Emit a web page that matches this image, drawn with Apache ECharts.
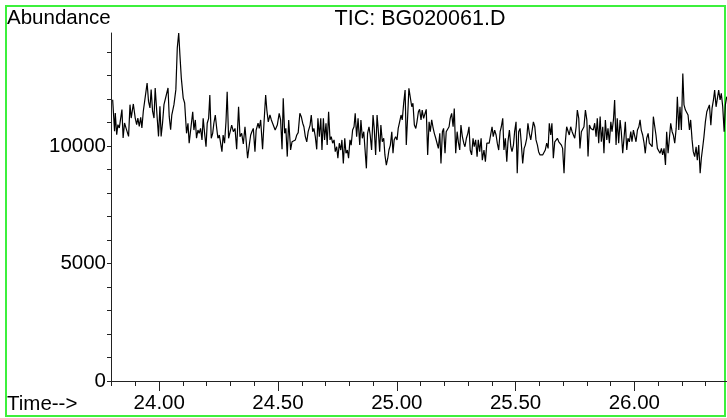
<!DOCTYPE html>
<html>
<head>
<meta charset="utf-8">
<script src="https://cdn.jsdelivr.net/npm/echarts@6/dist/echarts.min.js"></script>
<style>
html,body{margin:0;padding:0;background:#fff;}
#chart{width:727px;height:418px;}
</style>
</head>
<body>
<div id="chart"></div>
<script>
// Retention time (min)
const times = [
23.804,23.812,23.815,23.821,23.826,23.832,23.837,23.843,23.848,23.854,
23.860,23.865,23.871,23.877,23.882,23.891,23.899,23.905,23.910,23.916,
23.922,23.927,23.933,23.941,23.949,23.955,23.961,23.966,23.972,23.978,
23.983,23.992,23.997,24.003,24.008,24.014,24.020,24.028,24.037,24.042,
24.048,24.053,24.062,24.070,24.076,24.082,24.087,24.093,24.101,24.107,
24.115,24.121,24.126,24.133,24.141,24.146,24.152,24.157,24.163,24.168,
24.174,24.180,24.185,24.191,24.197,24.202,24.208,24.213,24.219,24.225,
24.230,24.236,24.242,24.247,24.253,24.259,24.264,24.269,24.275,24.281,
24.286,24.292,24.298,24.305,24.312,24.319,24.326,24.334,24.340,24.347,
24.354,24.361,24.365,24.372,24.379,24.385,24.390,24.396,24.403,24.408,
24.416,24.421,24.427,24.435,24.441,24.448,24.453,24.459,24.466,24.472,
24.480,24.488,24.497,24.505,24.511,24.517,24.522,24.528,24.533,24.539,
24.545,24.553,24.559,24.564,24.573,24.579,24.585,24.592,24.598,24.604,
24.609,24.615,24.621,24.627,24.635,24.640,24.646,24.651,24.657,24.663,
24.668,24.674,24.680,24.685,24.691,24.696,24.702,24.707,24.713,24.719,
24.724,24.730,24.736,24.741,24.747,24.752,24.758,24.764,24.769,24.775,
24.781,24.786,24.792,24.797,24.803,24.808,24.814,24.820,24.825,24.831,
24.837,24.844,24.849,24.855,24.861,24.866,24.872,24.877,24.883,24.888,
24.894,24.900,24.905,24.911,24.917,24.922,24.928,24.933,24.939,24.945,
24.950,24.956,24.962,24.967,24.973,24.979,24.984,24.989,24.995,25.001,
25.006,25.012,25.018,25.023,25.029,25.035,25.040,25.046,25.051,25.057,
25.063,25.068,25.074,25.080,25.085,25.091,25.096,25.102,25.107,25.113,
25.119,25.124,25.130,25.136,25.141,25.147,25.152,25.158,25.164,25.169,
25.175,25.181,25.186,25.192,25.197,25.203,25.208,25.214,25.220,25.225,
25.231,25.237,25.242,25.248,25.254,25.259,25.265,25.270,25.276,25.282,
25.287,25.293,25.299,25.304,25.309,25.315,25.321,25.326,25.332,25.338,
25.343,25.349,25.355,25.360,25.367,25.373,25.379,25.384,25.389,25.395,
25.401,25.406,25.412,25.418,25.423,25.429,25.435,25.440,25.446,25.451,
25.457,25.463,25.468,25.474,25.480,25.485,25.491,25.496,25.502,25.507,
25.513,25.519,25.524,25.530,25.536,25.541,25.547,25.552,25.558,25.564,
25.569,25.575,25.581,25.586,25.592,25.597,25.603,25.608,25.614,25.620,
25.625,25.631,25.637,25.642,25.648,25.653,25.659,25.665,25.670,25.676,
25.682,25.687,25.693,25.698,25.704,25.709,25.715,25.721,25.726,25.732,
25.738,25.743,25.749,25.755,25.760,25.766,25.771,25.777,25.783,25.788,
25.794,25.800,25.805,25.811,25.817,25.822,25.827,25.833,25.839,25.844,
25.850,25.856,25.861,25.867,25.872,25.878,25.884,25.889,25.895,25.901,
25.906,25.912,25.917,25.923,25.928,25.934,25.940,25.945,25.951,25.957,
25.962,25.968,25.973,25.979,25.985,25.990,25.996,26.002,26.007,26.013,
26.019,26.024,26.029,26.035,26.041,26.046,26.052,26.058,26.063,26.069,
26.075,26.080,26.086,26.091,26.097,26.103,26.108,26.114,26.119,26.125,
26.131,26.136,26.142,26.147,26.153,26.159,26.164,26.170,26.176,26.181,
26.187,26.192,26.198,26.204,26.209,26.215,26.221,26.226,26.232,26.237,
26.243,26.248,26.254,26.260,26.265,26.271,26.277,26.282,26.288,26.293,
26.299,26.305,26.310,26.316,26.322,26.327,26.333,26.338,26.344,26.349,
26.355,26.361,26.366,26.372,26.378,26.383,26.389
];
// Abundance (TIC)
const abundance = [
11970,10630,11400,10480,10910,10770,10840,11550,10340,10980,
10770,10840,10410,11760,11190,11790,11190,10910,11190,10840,
11220,10770,11480,11500,12680,11900,11620,12400,11480,11190,
12470,11120,10410,11690,10410,10980,11760,11760,12470,11260,
10690,11330,11760,12400,14170,14810,13890,12890,12040,11830,
10540,10970,10120,10180,11460,10680,11110,10330,10680,10540,
10750,10260,11180,10540,9970,10970,11180,12170,10330,10540,
10970,11320,10750,10330,10470,10400,9760,10470,10120,11030,
12310,10330,10330,10890,10610,10750,9860,11670,10400,10540,
10090,10820,10890,9480,10040,10470,10610,10750,9760,10680,
10970,10750,11110,9860,10970,12170,11530,11030,11320,11110,
11180,10680,10890,11390,11110,9860,12030,10540,10750,9550,
11110,9830,10180,10180,10260,10470,10570,11390,11250,10970,
10820,10400,10180,10610,10890,11320,10610,10750,10400,9860,
11180,10400,11180,9830,11180,10260,10970,10040,11460,10260,
10400,10120,10260,9760,9970,9480,10120,9830,10260,9260,
10330,9690,9830,9480,10260,10040,10680,10820,11390,10400,
11180,10040,11110,10330,10610,10540,9050,10540,10820,10470,
9830,11320,10750,9620,11320,10680,9760,10890,10180,10330,
9620,9190,9480,9830,10040,10610,9690,10260,10400,10260,
10750,11030,11320,11110,11820,12380,10040,11320,12460,12520,
11670,11820,10890,10750,11030,11460,11560,11110,11530,11180,
11390,11560,9620,11030,10610,11110,10820,10540,10330,10400,
9900,10540,9260,10610,10750,9690,10610,10680,10820,11180,
11390,10820,11600,9690,10610,10180,9830,10890,10400,10120,
9970,10330,10540,10820,9830,9620,10330,9970,10260,9550,
10260,9760,10330,9400,9830,9330,10120,10040,10120,10180,
10820,10400,10680,10470,10120,9830,10610,10820,11180,9830,
10330,9330,10180,10680,9970,9760,10040,10610,11030,8840,
10610,10750,10120,9260,9900,10040,10330,10970,10540,10260,
10330,11030,10820,10260,10040,9760,9620,9550,9620,9690,
9830,10120,9900,10970,10470,10970,9480,10180,10260,10330,
10180,10120,10040,9900,8840,10120,10820,10750,10470,10820,
10610,10680,10330,10820,11530,11180,9900,10610,10680,10820,
11530,11110,9550,10890,10750,10820,10680,10970,10400,11180,
10120,11250,10180,10820,9690,11110,10260,10750,10120,11030,
10610,11110,11960,10040,11180,10120,11110,10610,9690,10400,
11030,9830,10330,10180,10610,10180,10680,10610,10180,10680,
10820,11110,10680,10470,10120,9690,10330,10540,10120,10040,
9970,11250,10820,10470,9900,9830,9690,9900,9620,9900,
9190,10610,9690,9760,10970,10610,10470,10120,10750,12100,
10680,11670,10680,13090,11750,11530,11460,11320,10680,11110,
10260,9760,9550,9970,9400,10040,8840,9480,9970,10400,
11030,11460,11390,11750,10890,11600,11960,12380,11670,11750,
12380,11960,12240,11670,10610,11750,12100
];
const xMajorTicks = [24.0, 24.5, 25.0, 25.5, 26.0];
const xMinorTicks = [23.8,23.9,24.0,24.1,24.2,24.3,24.4,24.5,24.6,24.7,24.8,24.9,25.0,25.1,25.2,25.3,25.4,25.5,25.6,25.7,25.8,25.9,26.0,26.1,26.2,26.3];
const yTicks = [0,1000,2000,3000,4000,5000,6000,7000,8000,9000,10000,11000,12000,13000,14000];
const yLabels = [0, 5000, 10000];
const titleText = 'TIC: BG020061.D';
const yName = 'Abundance';
const xName = 'Time-->';

const X_MIN = 23.797, X_MAX = 26.39, Y_MIN = 0, Y_MAX = 14810;
const FONT = '"Liberation Sans", Arial, sans-serif';
const FS = 20.5;

const chart = echarts.init(document.getElementById('chart'), null, {renderer: 'canvas'});
const seriesData = times.map((t, i) => [t, abundance[i]]);
const gridPos = {left: 111, right: 0, top: 33, bottom: 37};

chart.setOption({
  animation: false,
  backgroundColor: '#ffffff',
  grid: [Object.assign({}, gridPos), Object.assign({}, gridPos)],
  xAxis: [
    {
      type: 'value', gridIndex: 0, min: X_MIN, max: X_MAX, position: 'bottom',
      axisLine: {show: true, onZero: false, lineStyle: {color: '#222', width: 1}},
      axisTick: {show: true, length: 5, customValues: xMinorTicks, lineStyle: {color: '#222'}},
      axisLabel: {show: false},
      splitLine: {show: false}
    },
    {
      type: 'value', gridIndex: 1, min: X_MIN, max: X_MAX, position: 'bottom',
      axisLine: {show: false, onZero: false},
      axisTick: {show: true, length: 10, customValues: xMajorTicks, lineStyle: {color: '#222'}},
      axisLabel: {show: true, customValues: xMajorTicks, margin: 12, color: '#000',
        fontFamily: FONT, fontSize: FS, formatter: v => v.toFixed(2)},
      splitLine: {show: false}
    }
  ],
  yAxis: [
    {
      type: 'value', gridIndex: 0, min: Y_MIN, max: Y_MAX,
      axisLine: {show: true, onZero: false, lineStyle: {color: '#222', width: 1}},
      axisTick: {show: true, length: 4, customValues: yTicks, lineStyle: {color: '#222'}},
      axisLabel: {show: true, customValues: yLabels, margin: 5, color: '#000',
        fontFamily: FONT, fontSize: FS, formatter: v => String(v)},
      splitLine: {show: false}
    },
    {
      type: 'value', gridIndex: 1, min: Y_MIN, max: Y_MAX, show: false
    }
  ],
  graphic: [
    {type: 'rect', shape: {x: 6, y: 6, width: 719, height: 410}, silent: true,
      style: {fill: 'none', stroke: '#3cf03c', lineWidth: 2}},
    {type: 'text', left: 7, top: 8, silent: true,
      style: {text: yName, font: FS + 'px ' + FONT, fill: '#000'}},
    {type: 'text', x: 420, y: 19, silent: true,
      style: {text: titleText, font: '21.5px ' + FONT, fill: '#000', align: 'center', verticalAlign: 'middle'}},
    {type: 'text', x: 7, y: 404, silent: true,
      style: {text: xName, font: FS + 'px ' + FONT, fill: '#000', align: 'left', verticalAlign: 'middle'}}
  ],
  series: [{
    type: 'line', xAxisIndex: 0, yAxisIndex: 0, data: seriesData,
    showSymbol: false, symbol: 'none', smooth: false,
    lineStyle: {color: '#000', width: 1.2}
  }]
});
</script>
</body>
</html>
